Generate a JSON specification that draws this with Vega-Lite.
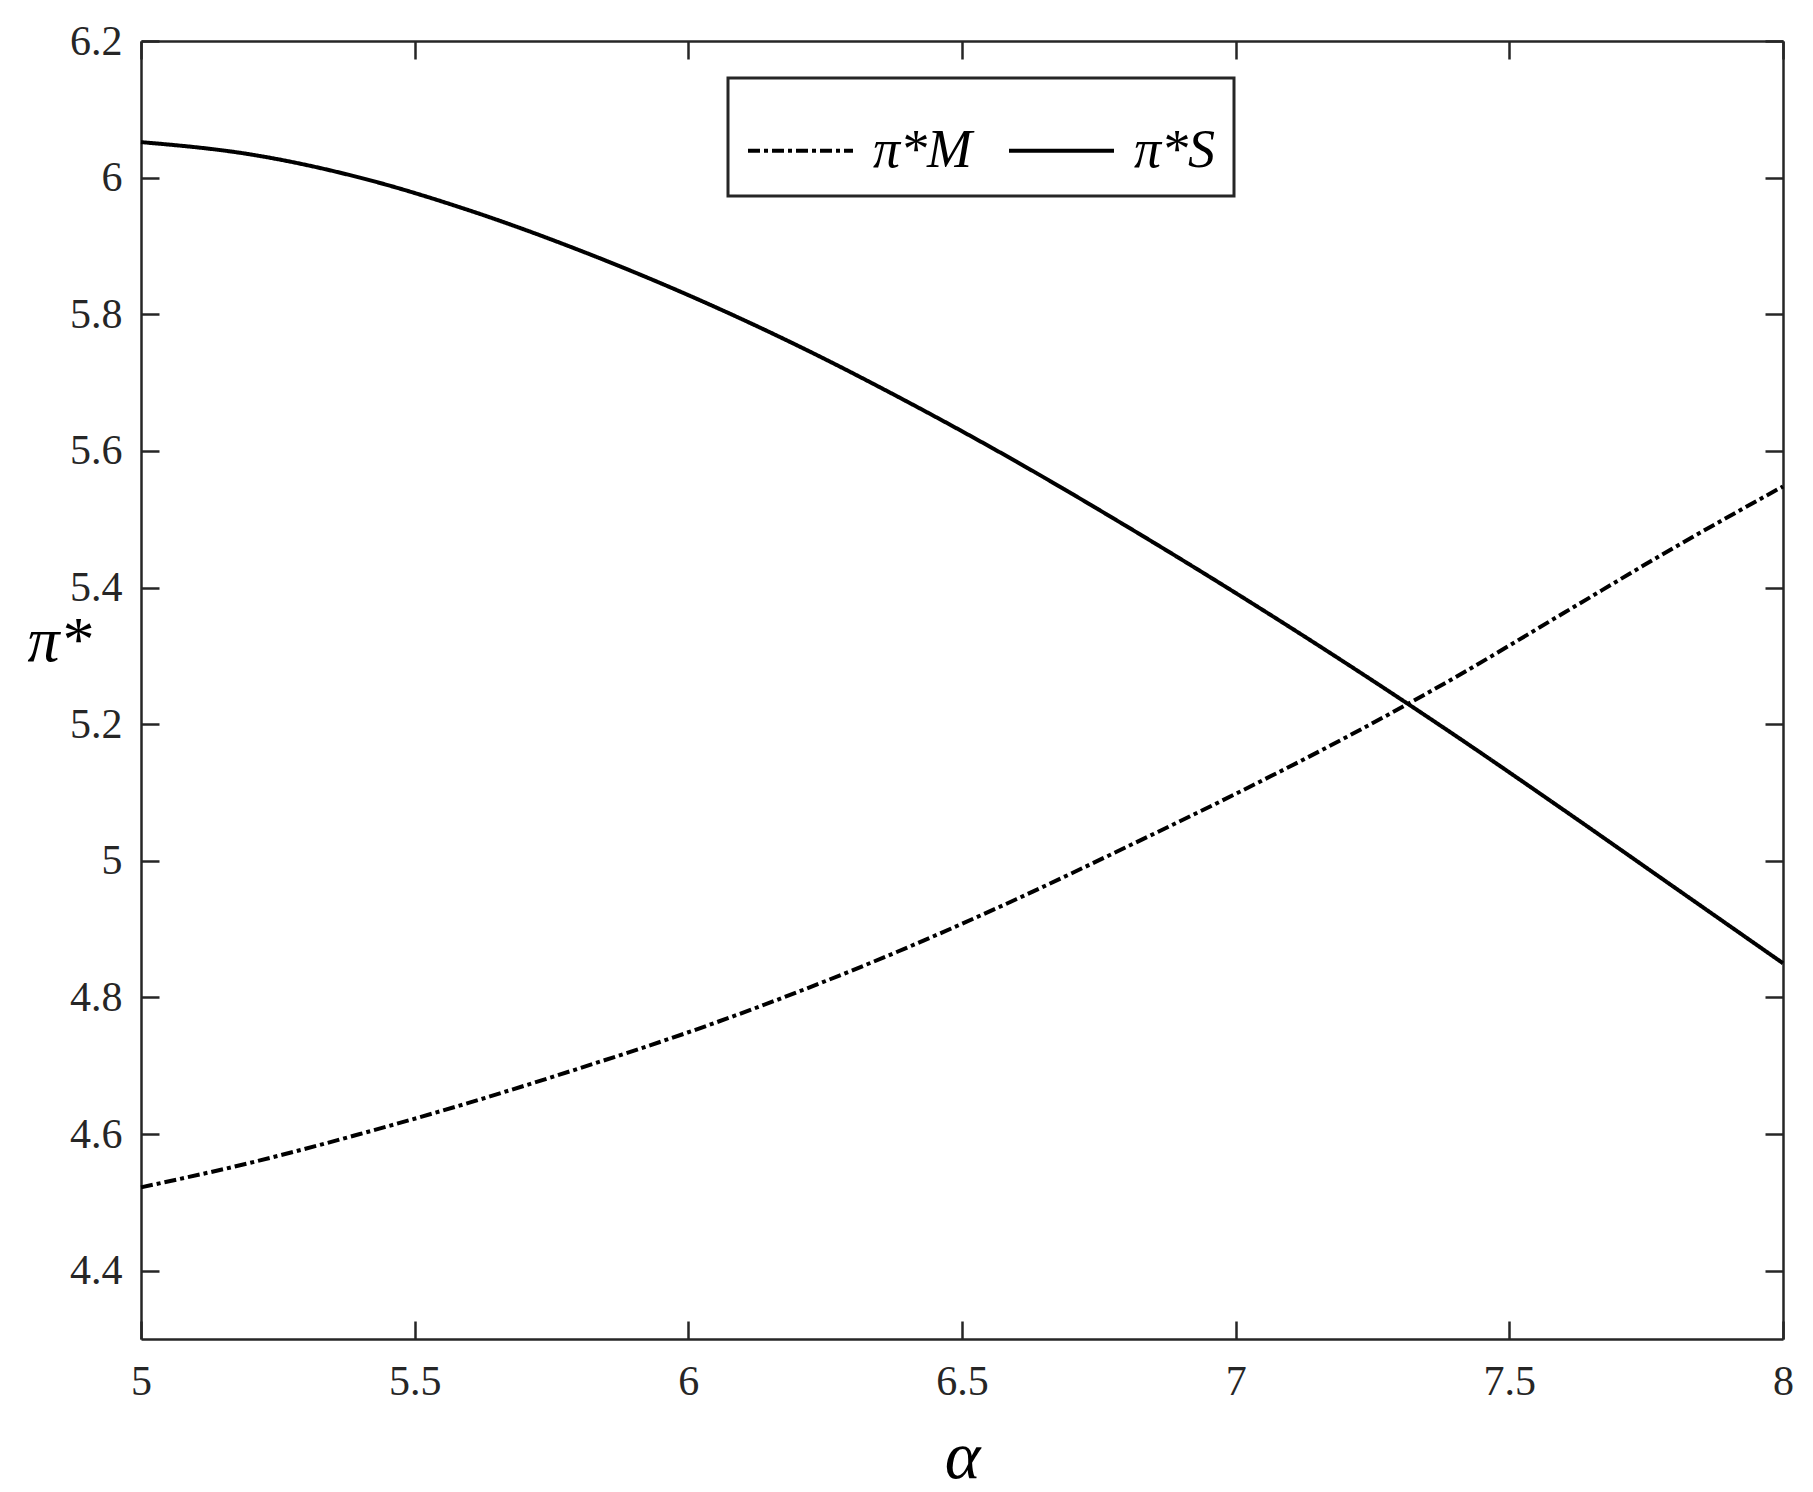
{
  "$schema": "https://vega.github.io/schema/vega-lite/v6.json",
  "width": 1642,
  "height": 1298,
  "autosize": "none",
  "padding": {"left": 141, "top": 41, "right": 30, "bottom": 153},
  "background": "white",
  "config": {
    "font": "Liberation Serif",
    "view": {"stroke": null},
    "axis": {
      "grid": false,
      "domainColor": "#262626",
      "domainWidth": 2.5,
      "tickColor": "#262626",
      "tickWidth": 2.5,
      "tickSize": -18,
      "labelFont": "Liberation Serif",
      "labelFontSize": 42,
      "labelColor": "#262626",
      "labelFlush": false,
      "labelOverlap": false,
      "titleFont": "Liberation Serif",
      "titleColor": "#000000",
      "titleFontWeight": "normal"
    }
  },
  "data": {
    "values": [
      {"alpha": 5.0, "series": "π*M", "value": 4.522},
      {"alpha": 5.2, "series": "π*M", "value": 4.558},
      {"alpha": 5.4, "series": "π*M", "value": 4.600},
      {"alpha": 5.6, "series": "π*M", "value": 4.646},
      {"alpha": 5.8, "series": "π*M", "value": 4.696},
      {"alpha": 6.0, "series": "π*M", "value": 4.749},
      {"alpha": 6.2, "series": "π*M", "value": 4.808},
      {"alpha": 6.4, "series": "π*M", "value": 4.873},
      {"alpha": 6.6, "series": "π*M", "value": 4.944},
      {"alpha": 6.8, "series": "π*M", "value": 5.020},
      {"alpha": 7.0, "series": "π*M", "value": 5.098},
      {"alpha": 7.2, "series": "π*M", "value": 5.180},
      {"alpha": 7.4, "series": "π*M", "value": 5.268},
      {"alpha": 7.6, "series": "π*M", "value": 5.363},
      {"alpha": 7.8, "series": "π*M", "value": 5.458},
      {"alpha": 8.0, "series": "π*M", "value": 5.548},
      {"alpha": 5.0, "series": "π*S", "value": 6.052},
      {"alpha": 5.2, "series": "π*S", "value": 6.034},
      {"alpha": 5.4, "series": "π*S", "value": 6.000},
      {"alpha": 5.6, "series": "π*S", "value": 5.952},
      {"alpha": 5.8, "series": "π*S", "value": 5.894},
      {"alpha": 6.0, "series": "π*S", "value": 5.828},
      {"alpha": 6.2, "series": "π*S", "value": 5.754},
      {"alpha": 6.4, "series": "π*S", "value": 5.672},
      {"alpha": 6.6, "series": "π*S", "value": 5.584},
      {"alpha": 6.8, "series": "π*S", "value": 5.490},
      {"alpha": 7.0, "series": "π*S", "value": 5.392},
      {"alpha": 7.2, "series": "π*S", "value": 5.290},
      {"alpha": 7.4, "series": "π*S", "value": 5.184},
      {"alpha": 7.6, "series": "π*S", "value": 5.074},
      {"alpha": 7.8, "series": "π*S", "value": 4.962},
      {"alpha": 8.0, "series": "π*S", "value": 4.850}
    ]
  },
  "layer": [
    {
      "transform": [{"filter": "datum.series === 'π*M'"}],
      "mark": {"type": "line", "color": "black", "strokeWidth": 4, "interpolate": "monotone"},
      "encoding": {
        "x": {
          "field": "alpha", "type": "quantitative",
          "scale": {"domain": [5, 8], "nice": false, "zero": false},
          "axis": {
            "orient": "bottom",
            "values": [5, 5.5, 6, 6.5, 7, 7.5, 8],
            "format": "~g",
            "labelFontSize": 42,
            "labelPadding": 40,
            "labelFlush": false,
            "title": "α",
            "titleFontSize": 68,
            "titleFontStyle": "italic",
            "titleY": 118,
            "titleBaseline": "middle"
          }
        },
        "y": {
          "field": "value", "type": "quantitative",
          "scale": {"domain": [4.3, 6.2], "nice": false, "zero": false},
          "axis": {
            "orient": "left",
            "values": [4.4, 4.6, 4.8, 5, 5.2, 5.4, 5.6, 5.8, 6, 6.2],
            "format": "~g",
            "labelFontSize": 42,
            "labelPadding": 37,
            "labelFlush": false,
            "title": "π*",
            "titleFontSize": 64,
            "titleFontStyle": "italic",
            "titleAngle": 0,
            "titleAlign": "center",
            "titleBaseline": "middle",
            "titleX": -82,
            "titleY": 600
          }
        },
        "strokeDash": {
          "field": "series", "type": "nominal",
          "scale": {"domain": ["π*M", "π*S"], "range": [[12, 4, 4, 4], [1, 0]]},
          "legend": {
            "title": null,
            "orient": "none",
            "legendX": 587,
            "legendY": 37,
            "direction": "horizontal",
            "symbolType": "stroke",
            "symbolSize": 11025,
            "symbolStrokeWidth": 4,
            "symbolStrokeColor": "black",
            "labelFont": "Liberation Serif",
            "labelFontSize": 54,
            "labelFontStyle": "italic",
            "labelColor": "black",
            "labelOffset": 18,
            "columnPadding": 28,
            "padding": 18,
            "strokeColor": "#262626",
            "fillColor": "white",
            "labelLimit": 400,
            "encode": {"legend": {"update": {"strokeWidth": {"value": 3}}}}
          }
        }
      }
    },
    {
      "transform": [{"filter": "datum.series === 'π*S'"}],
      "mark": {"type": "line", "color": "black", "strokeWidth": 4, "interpolate": "monotone"},
      "encoding": {
        "x": {
          "field": "alpha", "type": "quantitative",
          "axis": {
            "orient": "top",
            "values": [5, 5.5, 6, 6.5, 7, 7.5, 8],
            "labels": false,
            "title": null
          }
        },
        "y": {
          "field": "value", "type": "quantitative",
          "axis": {
            "orient": "right",
            "values": [4.4, 4.6, 4.8, 5, 5.2, 5.4, 5.6, 5.8, 6, 6.2],
            "labels": false,
            "title": null
          }
        },
        "strokeDash": {"field": "series", "type": "nominal"}
      }
    }
  ],
  "resolve": {"axis": {"x": "independent", "y": "independent"}}
}
